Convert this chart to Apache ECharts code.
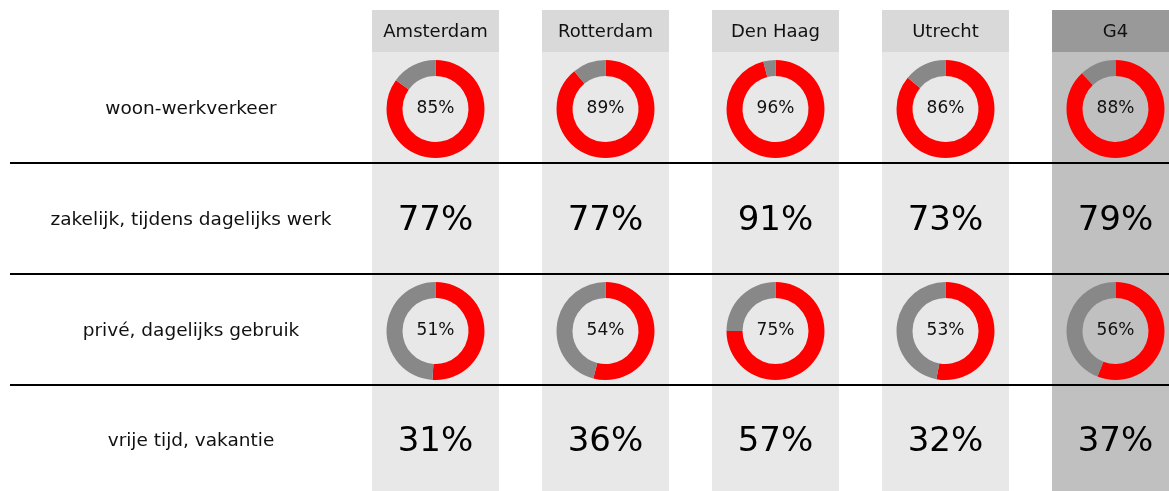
<!DOCTYPE html>
<html>
<head>
<meta charset="utf-8">
<script src="https://cdn.jsdelivr.net/npm/echarts@6/dist/echarts.min.js"></script>
<style>
  html, body { margin: 0; padding: 0; background: #fff; }
  #chart { width: 1169px; height: 491px; }
</style>
</head>
<body>
<div id="chart"></div>
<script>
// kolommen en rijen
var cities = ['Amsterdam', 'Rotterdam', 'Den Haag', 'Utrecht', 'G4'];
var motives = ['woon-werkverkeer', 'zakelijk, tijdens dagelijks werk', 'privé, dagelijks gebruik', 'vrije tijd, vakantie'];

// percentages per motief (zelfde volgorde als cities)
var woonWerk = [85, 89, 96, 86, 88];
var zakelijk = [77, 77, 91, 73, 79];
var prive = [51, 54, 75, 53, 56];
var vrijeTijd = [31, 36, 57, 32, 37];

var rows = [
  { values: woonWerk, donut: true },
  { values: zakelijk, donut: false },
  { values: prive, donut: true },
  { values: vrijeTijd, donut: false }
];

// layout
var font = 'DejaVu Sans';
var colX0 = 435.5, colStep = 170, colW = 127;
var headTop = 10, headBottom = 52, bodyBottom = 491;
var rowCenters = [109, 220, 331, 441];
var lineYs = [163, 274, 385];
var labelX = 191;

var graphics = [];
var series = [];

cities.forEach(function (c, i) {
  var cx = colX0 + colStep * i;
  var isG4 = c === 'G4';
  graphics.push({
    type: 'rect', silent: true,
    shape: { x: cx - colW / 2, y: headTop, width: colW, height: headBottom - headTop },
    style: { fill: isG4 ? '#999999' : '#d9d9d9' }
  });
  graphics.push({
    type: 'rect', silent: true,
    shape: { x: cx - colW / 2, y: headBottom, width: colW, height: bodyBottom - headBottom },
    style: { fill: isG4 ? '#c0c0c0' : '#e8e8e8' }
  });
  graphics.push({
    type: 'text', silent: true, x: cx, y: (headTop + headBottom) / 2 + 1,
    style: { text: c, font: '18px "' + font + '"', fill: '#111', align: 'center', verticalAlign: 'middle' }
  });
});

lineYs.forEach(function (y) {
  graphics.push({
    type: 'line', silent: true, z: 10,
    shape: { x1: 10, y1: y, x2: 1169, y2: y },
    style: { stroke: '#000', lineWidth: 2 }
  });
});

motives.forEach(function (m, r) {
  graphics.push({
    type: 'text', silent: true, x: labelX, y: rowCenters[r],
    style: { text: m, font: '18.5px "' + font + '"', fill: '#111', align: 'center', verticalAlign: 'middle' }
  });
  var row = rows[r];
  row.values.forEach(function (v, i) {
    var cx = colX0 + colStep * i;
    if (row.donut) {
      series.push({
        type: 'pie',
        silent: true,
        animation: false,
        center: [cx, rowCenters[r]],
        radius: [33, 49],
        startAngle: 90,
        avoidLabelOverlap: false,
        labelLine: { show: false },
        emphasis: { disabled: true },
        data: [
          { value: v, itemStyle: { color: '#ff0000' },
            label: { show: true, position: 'center', formatter: v + '%', fontFamily: font, fontSize: 17, color: '#111' } },
          { value: 100 - v, itemStyle: { color: '#888888' }, label: { show: false } }
        ]
      });
    } else {
      graphics.push({
        type: 'text', silent: true, x: cx, y: rowCenters[r] + 1,
        style: { text: v + '%', font: '34px "' + font + '"', fill: '#000', align: 'center', verticalAlign: 'middle' }
      });
    }
  });
});

var chart = echarts.init(document.getElementById('chart'));
chart.setOption({
  animation: false,
  graphic: { elements: graphics },
  series: series
});
</script>
</body>
</html>
